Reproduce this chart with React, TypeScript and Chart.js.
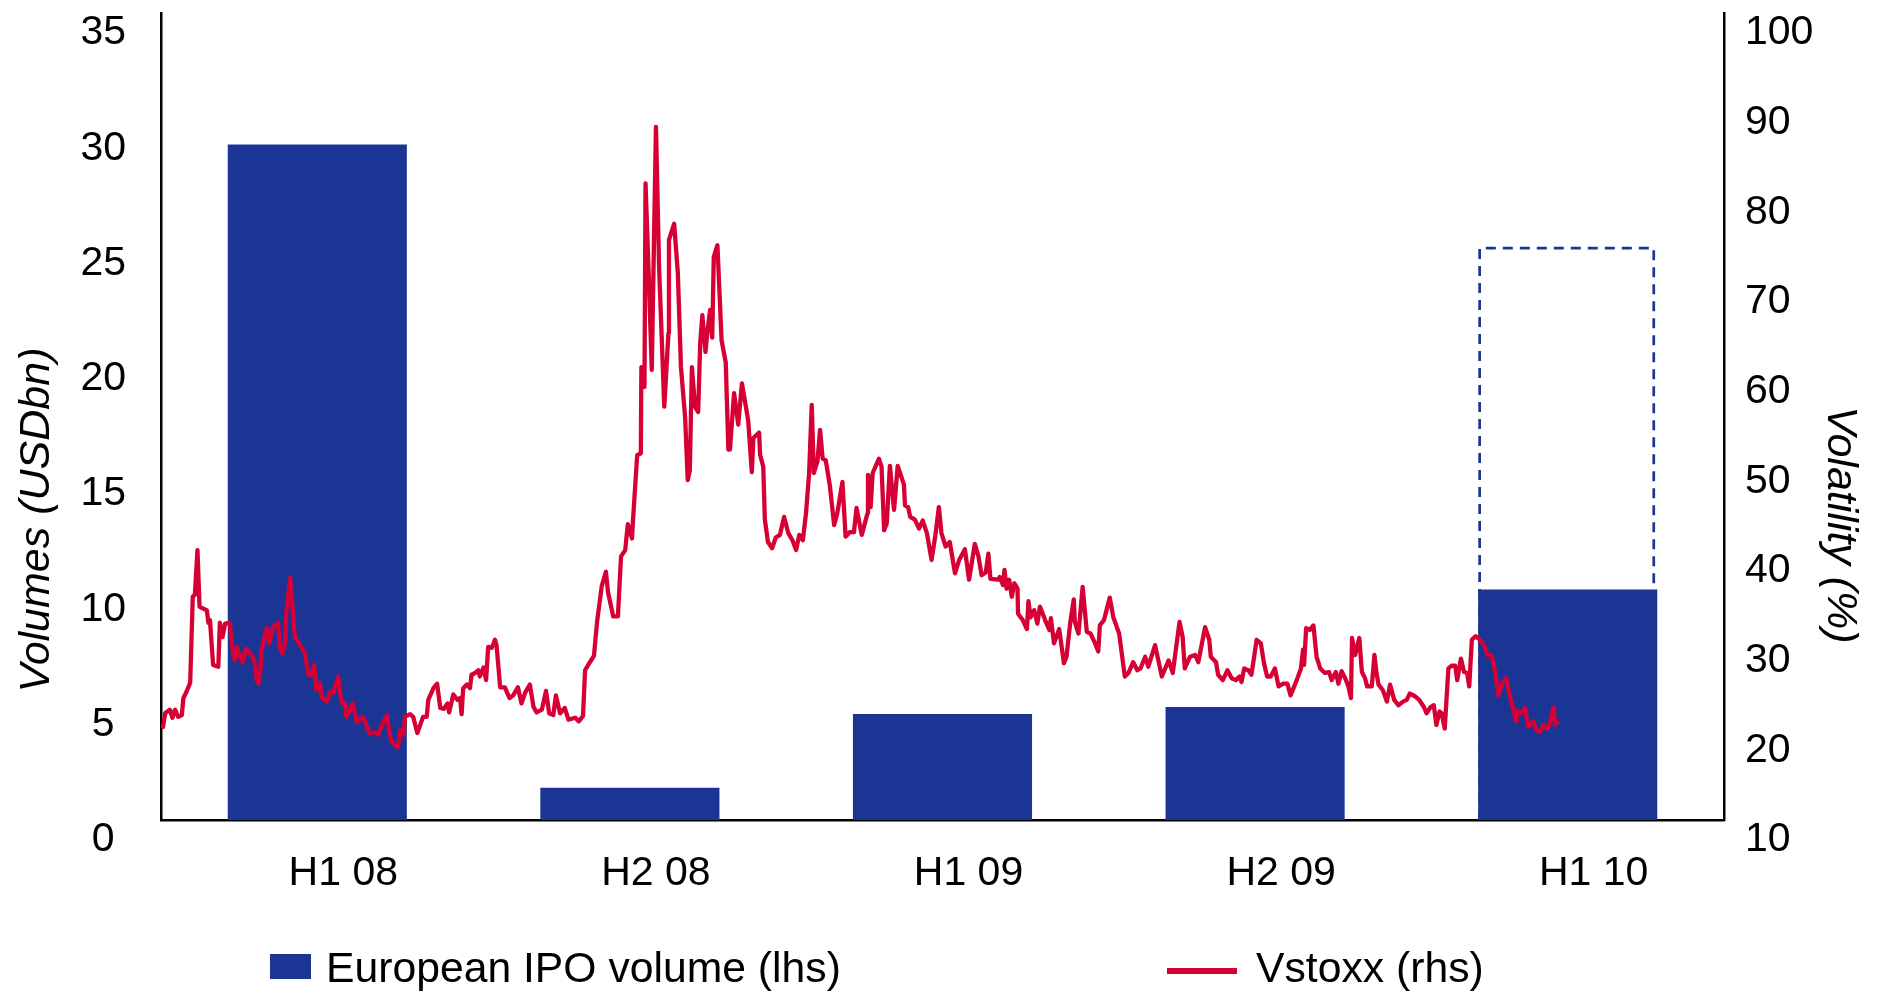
import React, { useEffect, useRef } from 'react';
import { Chart, registerables } from 'chart.js';

Chart.register(...registerables);

// ---------- data ----------
const periods = ['H1 08', 'H2 08', 'H1 09', 'H2 09', 'H1 10'];
const ipoVolumes = [29.3, 1.4, 4.6, 4.9, 10.0]; // USD bn
const ipoProjected = [null, null, null, null, 24.8]; // dashed outline, H1 10
const volumeTicks = [0, 5, 10, 15, 20, 25, 30, 35];
const volatilityTicks = [10, 20, 30, 40, 50, 60, 70, 80, 90, 100];

// Vstoxx: x = months since 1 Jan 2008, y = level (%)
const months08a = [
  0.00, 0.04, 0.08, 0.17, 0.22, 0.27, 0.33, 0.40, 0.43, 0.49,
  0.56, 0.61, 0.65, 0.70, 0.74, 0.80, 0.88, 0.91, 0.94, 1.00,
  1.10, 1.13, 1.18, 1.23, 1.32, 1.38, 1.42, 1.46, 1.52, 1.57,
  1.63, 1.71, 1.79, 1.84, 1.87, 1.91, 1.93, 2.03, 2.08, 2.15,
  2.25, 2.28, 2.33, 2.38, 2.41, 2.48, 2.53, 2.57, 2.67, 2.76,
  2.83, 2.89, 2.94, 2.98, 3.05, 3.08, 3.18, 3.24, 3.31, 3.40,
  3.47, 3.53, 3.56, 3.68, 3.76, 3.88, 4.00, 4.11, 4.17, 4.24,
  4.34, 4.38, 4.43, 4.55, 4.59, 4.66, 4.68, 4.78, 4.84, 4.92,
  5.03, 5.10, 5.13, 5.23, 5.30, 5.36, 5.43, 5.50, 5.53, 5.61,
  5.69, 5.74, 5.77, 5.80, 5.87, 5.93, 5.96, 6.03, 6.09, 6.12,
  6.19, 6.24, 6.28, 6.35, 6.41, 6.44, 6.51, 6.60, 6.69, 6.76,
  6.85, 6.92, 6.99, 7.08, 7.15, 7.21, 7.31, 7.39, 7.45, 7.53,
  7.58, 7.66, 7.75, 7.82,
];
const vstoxx08a = [
  20.6, 20.4, 21.9, 22.3, 21.4, 22.3, 21.5, 21.7, 23.6, 24.3,
  25.3, 34.9, 35.1, 40.1, 33.8, 33.6, 33.4, 32.0, 32.3, 27.3,
  27.1, 32.0, 30.4, 31.9, 32.0, 28.7, 27.8, 29.3, 28.2, 27.6,
  29.1, 28.6, 27.8, 25.6, 25.2, 26.7, 29.0, 31.4, 29.7, 31.5,
  32.0, 29.3, 28.6, 29.7, 33.4, 37.0, 33.4, 30.4, 29.5, 28.6,
  26.2, 26.2, 27.3, 24.5, 25.3, 23.7, 23.2, 24.2, 24.2, 26.0,
  23.0, 23.0, 21.5, 23.0, 20.9, 21.5, 19.7, 19.8, 19.5, 20.6,
  21.7, 19.8, 18.7, 18.1, 20.0, 19.5, 21.5, 21.8, 21.5, 19.7,
  21.5, 21.5, 23.4, 24.7, 25.2, 22.5, 22.4, 23.0, 22.0, 24.0,
  23.4, 23.6, 21.8, 24.7, 25.1, 24.7, 26.2, 26.4, 26.7, 26.0,
  27.0, 25.6, 29.3, 29.2, 30.1, 29.5, 24.8, 24.8, 23.6, 23.9,
  24.8, 23.0, 24.2, 25.1, 22.6, 22.0, 22.3, 24.4, 21.9, 21.7,
  23.9, 21.9, 22.5, 21.2,
];

const months08b = [
  7.95, 8.02, 8.10, 8.14, 8.21, 8.31, 8.37, 8.46, 8.54, 8.58,
  8.68, 8.77, 8.83, 8.91, 8.96, 9.04, 9.06, 9.14, 9.21, 9.22,
  9.25, 9.28, 9.30, 9.36, 9.42, 9.50, 9.56, 9.66, 9.74, 9.75,
  9.85, 9.92, 9.98, 10.06, 10.11, 10.15, 10.19, 10.25, 10.31, 10.35,
  10.39, 10.45, 10.49, 10.54, 10.58, 10.61, 10.68, 10.76, 10.84, 10.89,
  10.92, 11.00, 11.08, 11.15, 11.27, 11.34, 11.37, 11.48, 11.50, 11.56,
  11.59, 11.65, 11.73, 11.80,
];
const vstoxx08b = [
  21.4, 21.0, 21.6, 26.7, 27.4, 28.3, 32.1, 36.1, 37.7, 35.4,
  32.7, 32.7, 39.4, 40.1, 43.0, 41.4, 43.5, 50.7, 50.9, 60.5,
  60.5, 58.3, 81.0, 71.0, 60.2, 87.3, 71.7, 56.1, 64.3, 74.7,
  76.5, 71.0, 60.5, 54.9, 47.9, 49.0, 60.5, 56.1, 55.5, 63.2,
  66.3, 62.2, 64.6, 66.9, 63.8, 72.8, 74.1, 63.5, 61.0, 51.3,
  51.3, 57.6, 54.1, 58.7, 54.6, 48.8, 52.6, 53.2, 50.7, 49.4,
  43.5, 41.0, 40.3, 41.5,
];

const months09 = [
  11.88, 11.96, 12.04, 12.12, 12.19, 12.25, 12.32, 12.38, 12.44, 12.49,
  12.53, 12.60, 12.65, 12.70, 12.76, 12.84, 12.92, 12.98, 13.08, 13.14,
  13.22, 13.30, 13.35, 13.45, 13.56, 13.57, 13.62, 13.66, 13.78, 13.83,
  13.88, 13.93, 13.99, 14.07, 14.14, 14.26, 14.28, 14.34, 14.38, 14.47,
  14.55, 14.62, 14.70, 14.79, 14.86, 14.93, 14.98, 15.06, 15.14, 15.24,
  15.32, 15.43, 15.51, 15.62, 15.69, 15.75, 15.83, 15.88, 15.92, 16.07,
  16.10, 16.16, 16.19, 16.23, 16.28, 16.33, 16.38, 16.44, 16.45, 16.54,
  16.62, 16.65, 16.69, 16.76, 16.82, 16.87, 16.97, 17.05, 17.08, 17.14,
  17.24, 17.33, 17.38, 17.45, 17.52, 17.54, 17.61, 17.69, 17.77, 17.84,
  17.93, 17.99, 18.02, 18.10, 18.21, 18.28, 18.39, 18.50, 18.57, 18.66,
  18.74, 18.80, 18.89, 18.95,
];
const vstoxx09 = [
  41.8, 43.8, 42.0, 41.2, 40.1, 41.8, 41.2, 44.2, 48.7, 56.3,
  48.7, 50.0, 53.5, 50.3, 50.1, 47.2, 42.9, 44.2, 47.7, 41.6,
  42.1, 42.1, 44.8, 41.8, 44.2, 48.5, 44.9, 48.7, 50.3, 49.4,
  42.3, 43.1, 49.5, 44.6, 49.5, 47.4, 45.1, 44.9, 43.8, 43.5,
  42.5, 43.4, 42.0, 39.0, 41.6, 44.9, 42.0, 40.5, 41.0, 37.5,
  39.0, 40.2, 36.8, 40.8, 39.4, 37.3, 37.6, 39.7, 36.9, 36.8,
  37.1, 36.2, 37.9, 35.8, 36.8, 34.9, 36.4, 35.8, 33.0, 32.3,
  31.3, 34.4, 32.6, 33.4, 31.9, 33.8, 32.3, 31.2, 32.5, 29.7,
  31.3, 27.5, 28.2, 31.9, 34.6, 32.1, 30.8, 36.0, 31.0, 30.8,
  29.7, 28.8, 31.7, 32.3, 34.8, 32.6, 30.8, 26.0, 26.4, 27.6,
  26.7, 26.9, 28.2, 27.1,
];

const months10 = [
  19.08, 19.21, 19.34, 19.42, 19.55, 19.61, 19.65, 19.75, 19.85, 19.91,
  20.04, 20.12, 20.15, 20.25, 20.29, 20.38, 20.47, 20.55, 20.63, 20.70,
  20.74, 20.79, 20.87, 20.93, 21.03, 21.11, 21.17, 21.23, 21.30, 21.38,
  21.45, 21.54, 21.62, 21.68, 21.80, 21.88, 21.92, 21.94, 21.98, 22.05,
  22.12, 22.18, 22.25, 22.34, 22.42, 22.47, 22.55, 22.60, 22.66, 22.73,
  22.79, 22.84, 22.86, 22.92, 23.00, 23.05, 23.11, 23.15, 23.24, 23.29,
  23.33, 23.37, 23.45, 23.53, 23.59, 23.67, 23.75, 23.84, 23.91, 23.97,
  24.07, 24.15, 24.24, 24.29, 24.37, 24.43, 24.48, 24.54, 24.58, 24.64,
  24.71, 24.77, 24.84, 24.88, 24.95, 25.01, 25.07, 25.11, 25.16, 25.23,
  25.32, 25.41, 25.46, 25.54, 25.61, 25.67, 25.74, 25.82, 25.88, 25.96,
  26.01, 26.02, 26.10, 26.18, 26.24, 26.34, 26.40, 26.47, 26.53, 26.60,
  26.65, 26.73, 26.76, 26.82,
];
const vstoxx10 = [
  29.5, 26.0, 27.8, 26.4, 32.1, 30.4, 26.9, 28.2, 28.4, 27.6,
  31.5, 30.1, 28.2, 27.6, 26.2, 25.6, 26.7, 25.8, 25.6, 26.0,
  25.4, 26.9, 26.7, 26.2, 30.1, 29.7, 27.5, 26.0, 26.0, 26.9,
  24.9, 25.2, 25.2, 23.9, 25.6, 26.9, 29.0, 27.3, 31.4, 31.2,
  31.7, 28.2, 26.9, 26.4, 26.5, 25.6, 26.5, 25.2, 26.6, 25.8,
  24.9, 23.6, 30.3, 28.4, 30.3, 26.5, 25.8, 24.9, 24.9, 28.4,
  26.4, 25.1, 24.5, 23.2, 25.1, 23.4, 22.8, 23.2, 23.4, 24.1,
  23.8, 23.4, 22.6, 21.9, 22.6, 22.8, 20.6, 22.1, 21.9, 20.2,
  26.9, 27.2, 27.2, 25.6, 28.0, 26.5, 26.4, 24.9, 30.1, 30.5,
  30.1, 29.3, 28.4, 28.4, 26.4, 23.9, 25.2, 25.8, 24.1, 22.3,
  21.0, 22.2, 21.9, 22.5, 20.4, 21.0, 20.0, 19.8, 20.6, 20.2,
  20.6, 22.6, 20.6, 21.0,
];

const totalMonths = 30; // five half-years

// ---------- styling ----------
const FONT = '"Liberation Sans", Arial, Helvetica, sans-serif';
const BLUE = '#1b3594';
const RED = '#d70034';
const LABEL_IPO = 'European IPO volume (lhs)';
const LABEL_VSTOXX = 'Vstoxx (rhs)';
const LABEL_PROJ = 'Projected H1 10';

const W = 1877;
const H = 991;

export default function App() {
  const ref = useRef<HTMLCanvasElement>(null);

  useEffect(() => {
    const canvas = ref.current;
    if (!canvas) return;

    const xs = [...months08a, ...months08b, ...months09, ...months10];
    const ys = [...vstoxx08a, ...vstoxx08b, ...vstoxx09, ...vstoxx10];
    const n = Math.min(xs.length, ys.length);
    const lineData = [] as { x: number; y: number }[];
    for (let i = 0; i < n; i++) lineData.push({ x: xs[i], y: ys[i] });

    const projectedOutline = {
      id: 'projectedOutline',
      beforeDatasetsDraw(chart: any) {
        const idx = chart.data.datasets.findIndex((d: any) => d.label === LABEL_PROJ);
        if (idx < 0) return;
        const meta = chart.getDatasetMeta(idx);
        const ctx = chart.ctx;
        ctx.save();
        ctx.setLineDash([10, 7]);
        ctx.lineWidth = 2.7;
        ctx.strokeStyle = BLUE;
        meta.data.forEach((el: any, i: number) => {
          const v = chart.data.datasets[idx].data[i];
          if (v == null) return;
          const { x, y, base, width } = el.getProps(['x', 'y', 'base', 'width'], true);
          const l = x - width / 2 + 1.5;
          const r = x + width / 2 - 3.5;
          ctx.beginPath();
          ctx.moveTo(l, base);
          ctx.lineTo(l, y);
          ctx.lineTo(r, y);
          ctx.lineTo(r, base);
          ctx.stroke();
        });
        ctx.restore();
      },
    };

    const annotations = {
      id: 'annotations',
      afterDraw(chart: any) {
        const ctx = chart.ctx;
        const area = chart.chartArea;
        ctx.save();
        ctx.fillStyle = '#000';
        // axis titles
        ctx.font = `italic 43px ${FONT}`;
        ctx.textAlign = 'center';
        ctx.textBaseline = 'alphabetic';
        ctx.save();
        ctx.translate(49, area.top + 507);
        ctx.rotate(-Math.PI / 2);
        ctx.fillText('Volumes (USDbn)', 0, 0);
        ctx.restore();
        ctx.save();
        ctx.translate(1828, area.top + 512);
        ctx.rotate(Math.PI / 2);
        ctx.fillText('Volatility (%)', 0, 0);
        ctx.restore();

        // legend
        const ds = chart.data.datasets;
        const ipo = ds.find((d: any) => d.label === LABEL_IPO);
        const vs = ds.find((d: any) => d.label === LABEL_VSTOXX);
        const baseY = area.bottom + 162;
        ctx.font = `42.7px ${FONT}`;
        ctx.textAlign = 'left';
        ctx.fillStyle = ipo.backgroundColor;
        ctx.fillRect(270, baseY - 28, 41, 25);
        ctx.fillStyle = '#000';
        ctx.fillText(ipo.label, 326, baseY);
        ctx.fillStyle = vs.borderColor;
        ctx.fillRect(1167, baseY - 14, 70, 6);
        ctx.fillStyle = '#000';
        ctx.fillText(vs.label, 1256, baseY);
        ctx.restore();
      },
    };

    const tickFont = { family: FONT, size: 41 };

    const chart = new Chart(canvas, {
      type: 'bar',
      data: {
        labels: periods,
        datasets: [
          {
            type: 'line',
            label: LABEL_VSTOXX,
            data: lineData,
            xAxisID: 'x2',
            yAxisID: 'y1',
            borderColor: RED,
            backgroundColor: RED,
            borderWidth: 4.3,
            borderJoinStyle: 'round',
            pointRadius: 0,
            tension: 0,
            fill: false,
            order: 0,
          } as any,
          {
            type: 'bar',
            label: LABEL_IPO,
            data: ipoVolumes,
            xAxisID: 'x',
            yAxisID: 'y',
            backgroundColor: BLUE,
            borderWidth: 0,
            barPercentage: 0.573,
            categoryPercentage: 1,
            grouped: false,
            order: 1,
          } as any,
          {
            type: 'bar',
            label: LABEL_PROJ,
            data: ipoProjected,
            xAxisID: 'x',
            yAxisID: 'y',
            backgroundColor: 'rgba(0,0,0,0)',
            borderWidth: 0,
            barPercentage: 0.573,
            categoryPercentage: 1,
            grouped: false,
            order: 2,
          } as any,
        ],
      },
      options: {
        responsive: false,
        animation: false,
        devicePixelRatio: 1,
        layout: { padding: { top: 13, left: 0, right: 0, bottom: 0 } },
        plugins: {
          legend: { display: false },
          tooltip: { enabled: false },
          title: { display: false },
        },
        scales: {
          x: {
            type: 'category',
            position: 'bottom',
            offset: true,
            grid: { display: false, drawTicks: false },
            border: { display: true, color: '#000', width: 2.5 },
            ticks: {
              font: tickFont,
              color: '#000',
              padding: 29,
              labelOffset: 26,
              maxRotation: 0,
              autoSkip: false,
            },
            afterFit: (s: any) => {
              s.height = 171;
              s.paddingLeft = 0;
              s.paddingRight = 0;
            },
          },
          x2: {
            type: 'linear',
            display: false,
            offset: false,
            grid: { offset: false },
            min: 0,
            max: totalMonths,
          },
          y: {
            type: 'linear',
            position: 'left',
            min: volumeTicks[0],
            max: volumeTicks[volumeTicks.length - 1],
            grid: { display: false, drawTicks: false },
            border: { display: true, color: '#000', width: 2.5 },
            ticks: {
              font: tickFont,
              color: '#000',
              padding: 35,
              crossAlign: 'center',
              labelOffset: 20,
            },
            afterBuildTicks: (s: any) => {
              s.ticks = volumeTicks.map((v) => ({ value: v }));
            },
            afterFit: (s: any) => {
              s.width = 161;
              s.paddingTop = 0;
              s.paddingBottom = 0;
            },
          },
          y1: {
            type: 'linear',
            position: 'right',
            min: volatilityTicks[0],
            max: volatilityTicks[volatilityTicks.length - 1],
            grid: { display: false, drawTicks: false },
            border: { display: true, color: '#000', width: 2.5 },
            ticks: {
              font: tickFont,
              color: '#000',
              padding: 21,
              labelOffset: 20,
            },
            afterBuildTicks: (s: any) => {
              s.ticks = volatilityTicks.map((v) => ({ value: v }));
            },
            afterFit: (s: any) => {
              s.width = 153;
              s.paddingTop = 0;
              s.paddingBottom = 0;
            },
          },
        } as any,
      },
      plugins: [projectedOutline, annotations],
    });

    return () => chart.destroy();
  }, []);

  return (
    <div style={{ position: 'fixed', left: 0, top: 0, width: W, height: H, background: '#fff' }}>
      <canvas ref={ref} width={W} height={H} style={{ display: 'block' }} />
    </div>
  );
}
